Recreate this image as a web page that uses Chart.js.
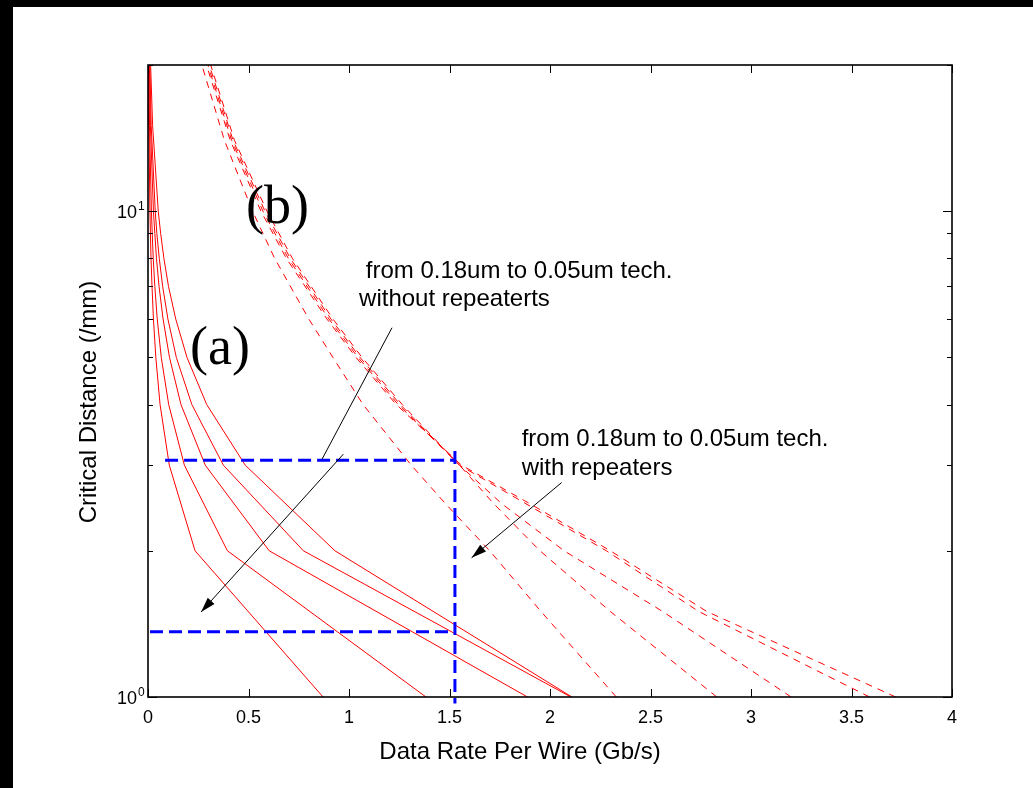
<!DOCTYPE html>
<html>
<head>
<meta charset="utf-8">
<script src="https://cdn.jsdelivr.net/npm/chart.js@4.4.1/dist/chart.umd.min.js"></script>
<style>
  html, body { margin: 0; padding: 0; background: #fff; overflow: hidden; }
  #wrap { position: relative; width: 1033px; height: 788px; overflow: hidden; background: #fff; }
  #barTop { position: absolute; left: 0; top: 0; width: 1033px; height: 7px; background: #000; }
  #barLeft { position: absolute; left: 0; top: 0; width: 13px; height: 788px; background: #000; }
  canvas { position: absolute; left: 0; top: 0; }
</style>
</head>
<body>
<div id="wrap">
  <div id="barTop"></div>
  <div id="barLeft"></div>
  <canvas id="chart" width="1033" height="788"></canvas>
</div>
<script>
// critical distance (mm) for each curve, and data rate per wire (Gb/s)
const distSolid = [1, 2, 3, 4, 5, 6, 7, 8, 9, 10, 15, 20];
const rateSolid1 = [0.871, 0.234, 0.106, 0.060, 0.039, 0.027, 0.020, 0.015, 0.012, 0.0097, 0.0043, 0.0024];
const rateSolid2 = [1.383, 0.395, 0.181, 0.103, 0.066, 0.046, 0.034, 0.026, 0.021, 0.017, 0.0075, 0.0042];
const rateSolid3 = [1.888, 0.603, 0.285, 0.164, 0.107, 0.075, 0.055, 0.042, 0.034, 0.027, 0.012, 0.0069];
const rateSolid4 = [2.104, 0.773, 0.375, 0.218, 0.141, 0.099, 0.073, 0.056, 0.044, 0.036, 0.016, 0.009];
const rateSolid5 = [2.109, 0.930, 0.484, 0.292, 0.194, 0.138, 0.102, 0.079, 0.063, 0.051, 0.023, 0.013];

const distDashed = [1, 1.5, 2, 2.5, 3, 4, 5, 6, 8, 10, 14, 20];
const rateDashedA = [2.33, 1.955, 1.70, 1.48, 1.31, 1.07, 0.92, 0.80, 0.63, 0.52, 0.38, 0.268];
const rateDashedB = [2.83, 2.30, 1.95, 1.72, 1.55, 1.265, 1.065, 0.92, 0.718, 0.592, 0.43, 0.312];
const rateDashedC = [3.20, 2.56, 2.07, 1.76, 1.55, 1.255, 1.055, 0.91, 0.708, 0.582, 0.423, 0.305];
const rateDashedD = [3.59, 2.74, 2.28, 1.88, 1.55, 1.245, 1.045, 0.90, 0.698, 0.572, 0.416, 0.298];
const rateDashedE = [3.72, 2.78, 2.30, 1.90, 1.56, 1.235, 1.035, 0.89, 0.688, 0.562, 0.409, 0.291];

// blue guide lines
const guideRate = 1.527;
const guideDistUpper = 3.07;
const guideDistLower = 1.362;

const xTicks = [0, 0.5, 1, 1.5, 2, 2.5, 3, 3.5, 4];
const xTickLabels = ['0', '0.5', '1', '1.5', '2', '2.5', '3', '3.5', '4'];
const yTicks = [1, 2, 3, 4, 5, 6, 7, 8, 9, 10, 20];
const yTickLabels = {1: '0', 10: '1'};

const SANS = "'Liberation Sans', Arial, Helvetica, sans-serif";
const SERIF = "'Liberation Serif', 'Times New Roman', serif";

function pairs(dist, rate) {
  return dist.map((d, i) => ({ x: rate[i], y: d }));
}

function redLine(dist, rate, dashed) {
  return {
    data: pairs(dist, rate),
    borderColor: '#ff0000',
    borderWidth: 1,
    borderDash: dashed ? [7, 6] : [],
    pointRadius: 0,
    fill: false,
    tension: 0
  };
}

function blueLine(points, clip) {
  return {
    data: points,
    borderColor: '#0000ff',
    borderWidth: 3,
    borderDash: [13, 6],
    pointRadius: 0,
    fill: false,
    tension: 0,
    clip: clip
  };
}

function drawArrow(ctx, x1, y1, x2, y2, head) {
  ctx.beginPath();
  ctx.moveTo(x1, y1);
  ctx.lineTo(x2, y2);
  ctx.stroke();
  if (!head) return;
  const ang = Math.atan2(y2 - y1, x2 - x1);
  const len = 15, half = 4.5;
  const bx = x2 - len * Math.cos(ang), by = y2 - len * Math.sin(ang);
  ctx.beginPath();
  ctx.moveTo(x2, y2);
  ctx.lineTo(bx + half * Math.sin(ang), by - half * Math.cos(ang));
  ctx.lineTo(bx - half * Math.sin(ang), by + half * Math.cos(ang));
  ctx.closePath();
  ctx.fill();
}

const framePlugin = {
  id: 'framePlugin',
  afterDatasetsDraw(chart) {
    const { ctx, chartArea: area, scales } = chart;
    const xs = scales.x, ys = scales.y;
    ctx.save();
    ctx.strokeStyle = '#000';
    ctx.fillStyle = '#000';

    // box
    ctx.lineWidth = 1.6;
    ctx.strokeRect(area.left, area.top, area.right - area.left, area.bottom - area.top);

    // inward ticks
    ctx.lineWidth = 1;
    ctx.beginPath();
    xs.ticks.forEach(t => {
      const px = Math.round(xs.getPixelForValue(t.value)) + 0.5;
      ctx.moveTo(px, area.bottom); ctx.lineTo(px, area.bottom - 8);
      ctx.moveTo(px, area.top); ctx.lineTo(px, area.top + 8);
    });
    ys.ticks.forEach(t => {
      const py = Math.round(ys.getPixelForValue(t.value)) + 0.5;
      const len = (t.value === 1 || t.value === 10) ? 9 : 5;
      ctx.moveTo(area.left, py); ctx.lineTo(area.left + len, py);
      ctx.moveTo(area.right, py); ctx.lineTo(area.right - len, py);
    });
    ctx.stroke();

    // tick labels
    ctx.font = '18px ' + SANS;
    ctx.textAlign = 'center';
    ctx.textBaseline = 'alphabetic';
    xs.ticks.forEach((t, i) => {
      ctx.fillText(xTickLabels[i], xs.getPixelForValue(t.value), area.bottom + 26);
    });
    ys.ticks.forEach(t => {
      const sup = yTickLabels[t.value];
      if (sup === undefined) return;
      const py = ys.getPixelForValue(t.value);
      ctx.textAlign = 'right';
      ctx.font = '18px ' + SANS;
      ctx.fillText('10', area.left - 11, py + 7);
      ctx.textAlign = 'left';
      ctx.font = '12px ' + SANS;
      ctx.fillText(sup, area.left - 10, py - 1);
    });

    // axis titles
    ctx.font = '24px ' + SANS;
    ctx.textAlign = 'center';
    ctx.fillText('Data Rate Per Wire (Gb/s)', area.left + 372, area.bottom + 62);
    ctx.save();
    ctx.translate(area.left - 52, area.top + 337);
    ctx.rotate(-Math.PI / 2);
    ctx.fillText('Critical Distance (/mm)', 0, 0);
    ctx.restore();

    // curve family labels
    ctx.font = '54px ' + SERIF;
    ctx.textAlign = 'left';
    ctx.fillText('(b)', xs.getPixelForValue(0.488), ys.getPixelForValue(9.44));
    ctx.fillText('(a)', xs.getPixelForValue(0.209), ys.getPixelForValue(4.85));

    // notes
    ctx.font = '24px ' + SANS;
    let nx = xs.getPixelForValue(1.05), ny = ys.getPixelForValue(7.295);
    ctx.fillText(' from 0.18um to 0.05um tech.', nx, ny);
    ctx.fillText('without repeaterts', nx, ny + 28);
    nx = xs.getPixelForValue(1.859); ny = ys.getPixelForValue(3.281);
    ctx.fillText('from 0.18um to 0.05um tech.', nx, ny);
    ctx.fillText('with repeaters', nx, ny + 29);

    // pointer lines
    ctx.lineWidth = 1;
    drawArrow(ctx, xs.getPixelForValue(1.214), ys.getPixelForValue(5.757),
      xs.getPixelForValue(0.866), ys.getPixelForValue(3.088), false);
    drawArrow(ctx, xs.getPixelForValue(0.972), ys.getPixelForValue(3.162),
      xs.getPixelForValue(0.264), ys.getPixelForValue(1.496), true);
    drawArrow(ctx, xs.getPixelForValue(2.058), ys.getPixelForValue(2.764),
      xs.getPixelForValue(1.610), ys.getPixelForValue(1.935), true);

    ctx.restore();
  }
};

new Chart(document.getElementById('chart'), {
  type: 'line',
  data: {
    datasets: [
      blueLine([{ x: 0.085, y: guideDistUpper }, { x: guideRate, y: guideDistUpper }], 0),
      blueLine([{ x: guideRate, y: 3.21 }, { x: guideRate, y: 0.97 }], 10),
      blueLine([{ x: 0.01, y: guideDistLower }, { x: guideRate, y: guideDistLower }], 0),
      redLine(distSolid, rateSolid1, false),
      redLine(distSolid, rateSolid2, false),
      redLine(distSolid, rateSolid3, false),
      redLine(distSolid, rateSolid4, false),
      redLine(distSolid, rateSolid5, false),
      redLine(distDashed, rateDashedA, true),
      redLine(distDashed, rateDashedB, true),
      redLine(distDashed, rateDashedC, true),
      redLine(distDashed, rateDashedD, true),
      redLine(distDashed, rateDashedE, true)
    ]
  },
  options: {
    responsive: false,
    animation: false,
    devicePixelRatio: 1,
    layout: { padding: { left: 148, right: 81, top: 65, bottom: 91 } },
    plugins: { legend: { display: false }, tooltip: { enabled: false } },
    scales: {
      x: {
        type: 'linear', min: 0, max: 4, display: false,
        afterBuildTicks: scale => { scale.ticks = xTicks.map(v => ({ value: v })); }
      },
      y: {
        type: 'logarithmic', min: 1, max: 20, display: false,
        afterBuildTicks: scale => { scale.ticks = yTicks.map(v => ({ value: v })); }
      }
    }
  },
  plugins: [framePlugin]
});
</script>
</body>
</html>
